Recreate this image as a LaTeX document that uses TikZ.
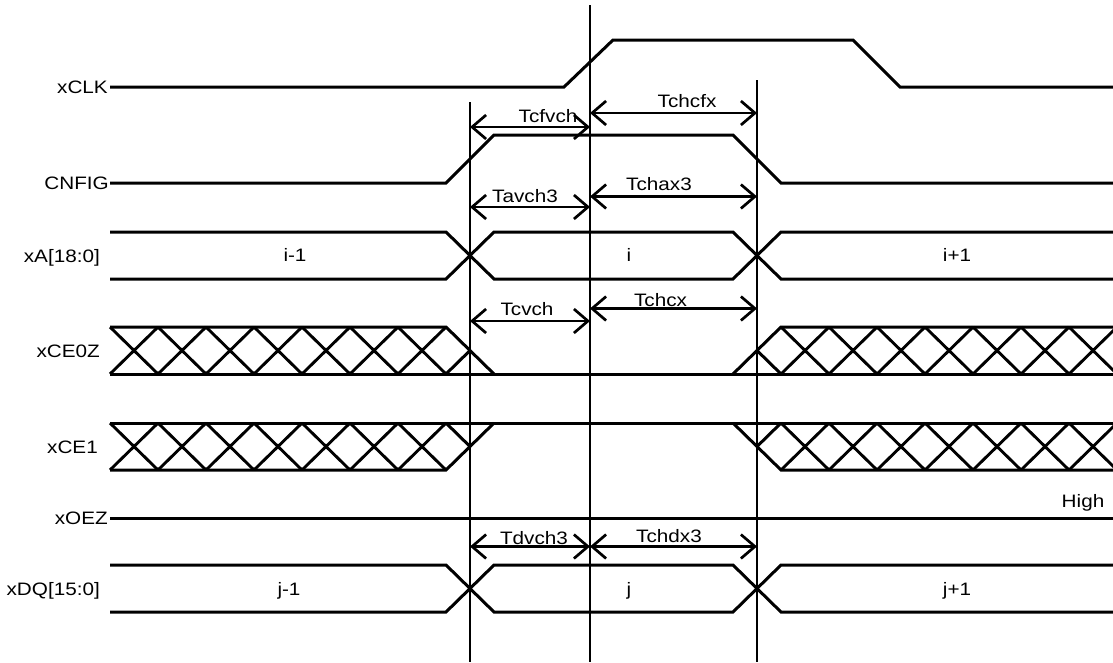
\documentclass[tikz,border=0pt]{standalone}
\usepackage{fontspec}
\setmainfont{Liberation Sans}[FakeStretch=1.15]
\usetikzlibrary{arrows.meta}
\begin{document}
\begin{tikzpicture}[x=1pt,y=-1pt,
  sig/.style={line width=3pt,line join=miter},
  hatch/.style={line width=2.9pt},
  vline/.style={line width=2.8pt},
  dim/.style={line width=2.7pt,{Straight Barb[length=14pt,width=24pt]}-{Straight Barb[length=14pt,width=24pt]}},
  lbl/.style={font=\fontsize{18pt}{20pt}\selectfont, inner sep=0pt, anchor=base east},
  tlbl/.style={font=\fontsize{18pt}{20pt}\selectfont, inner sep=0pt, anchor=base}]
\useasboundingbox (0,0) rectangle (1113,662);
\clip (0,0) rectangle (1113,662);

% signal labels
\node[lbl] (lclk) at (108,93.3) {xCLK};
\node[lbl] (lcnfig) at (109,189.3) {CNFIG};
\node[lbl] (lxa) at (100,262) {xA[18:0]};
\node[lbl] (lce0) at (100,357) {xCE0Z};
\node[lbl] (lce1) at (98,453) {xCE1};
\node[lbl] (loez) at (108,524.3) {xOEZ};
\node[lbl] (ldq) at (100,595) {xDQ[15:0]};

% xCLK
\draw[sig] (110,87) -- (564,87) -- (613,40) -- (853,40) -- (900,87) -- (1113,87);
% CNFIG
\draw[sig] (110,183) -- (446,183) -- (494,135) -- (733,135) -- (781,183) -- (1113,183);
% xA
\draw[sig] (110,232) -- (446,232) -- (494,279) -- (733,279) -- (781,232) -- (1113,232);
\draw[sig] (110,279) -- (446,279) -- (494,232) -- (733,232) -- (781,279) -- (1113,279);
% xCE0Z
\draw[sig] (110,327) -- (446,327) -- (494,374);
\draw[sig] (110,374) -- (1113,374);
\draw[sig] (733,374) -- (781,327) -- (1113,327);
\draw[sig] (446,374) -- (470,350.5);
\draw[sig] (757,350.5) -- (781,374);
\foreach \k in {0,...,6} {
  \draw[hatch] (110+48*\k,327) -- (158+48*\k,374);
  \draw[hatch] (110+48*\k,374) -- (158+48*\k,327);
  \draw[hatch] (781+48*\k,327) -- (829+48*\k,374);
  \draw[hatch] (781+48*\k,374) -- (829+48*\k,327);
}
% xCE1
\draw[sig] (110,423) -- (1113,423);
\draw[sig] (110,470) -- (446,470) -- (494,423);
\draw[sig] (446,423) -- (470,446.5);
\draw[sig] (733,423) -- (781,470) -- (1113,470);
\draw[sig] (757,446.5) -- (781,423);
\foreach \k in {0,...,6} {
  \draw[hatch] (110+48*\k,423) -- (158+48*\k,470);
  \draw[hatch] (110+48*\k,470) -- (158+48*\k,423);
  \draw[hatch] (781+48*\k,423) -- (829+48*\k,470);
  \draw[hatch] (781+48*\k,470) -- (829+48*\k,423);
}
% xOEZ
\draw[sig] (110,518) -- (1113,518);
% xDQ
\draw[sig] (110,565) -- (446,565) -- (494,612) -- (733,612) -- (781,565) -- (1113,565);
\draw[sig] (110,612) -- (446,612) -- (494,565) -- (733,565) -- (781,612) -- (1113,612);

% vertical reference lines
\coordinate (v1t) at (470,102); \coordinate (v1b) at (470,662);
\coordinate (v2t) at (590,5);   \coordinate (v2b) at (590,662);
\coordinate (v3t) at (757,80);  \coordinate (v3b) at (757,662);
\draw[vline] (v1t) -- (v1b);
\draw[vline] (v2t) -- (v2b);
\draw[vline] (v3t) -- (v3b);

% dimension arrows
\draw[dim] (v1t |- 0,127) -- (v2t |- 0,127);
\draw[dim] (v2t |- 0,113) -- (v3t |- 0,113);
\draw[dim] (v1t |- 0,207) -- (v2t |- 0,207);
\draw[dim] (v2t |- 0,196.5) -- (v3t |- 0,196.5);
\draw[dim] (v1t |- 0,321) -- (v2t |- 0,321);
\draw[dim] (v2t |- 0,308.5) -- (v3t |- 0,308.5);
\draw[dim] (v1t |- 0,546.5) -- (v2t |- 0,546.5);
\draw[dim] (v2t |- 0,546.5) -- (v3t |- 0,546.5);

% timing labels
\node[tlbl] (tcfvch) at (548,122) {Tcfvch};
\node[tlbl] (tchcfx) at (687,107.3) {Tchcfx};
\node[tlbl] (tavch3) at (525,202.7) {Tavch3};
\node[tlbl] (tchax3) at (659,190) {Tchax3};
\node[tlbl] (tcvch) at (527,315.7) {Tcvch};
\node[tlbl] (tchcx) at (660.5,306) {Tchcx};
\node[tlbl] (tdvch3) at (534,544) {Tdvch3};
\node[tlbl] (tchdx3) at (669,542.7) {Tchdx3};
\node[tlbl] (high) at (1083,507) {High};

% data labels
\node[tlbl] (dim1) at (295,261.5) {i-1};
\node[tlbl] (di) at (629,261.5) {i};
\node[tlbl] (dip1) at (957,261.5) {i+1};
\node[tlbl] (djm1) at (289,595) {j-1};
\node[tlbl] (dj) at (629,595) {j};
\node[tlbl] (djp1) at (957,595) {j+1};
\end{tikzpicture}
\end{document}
